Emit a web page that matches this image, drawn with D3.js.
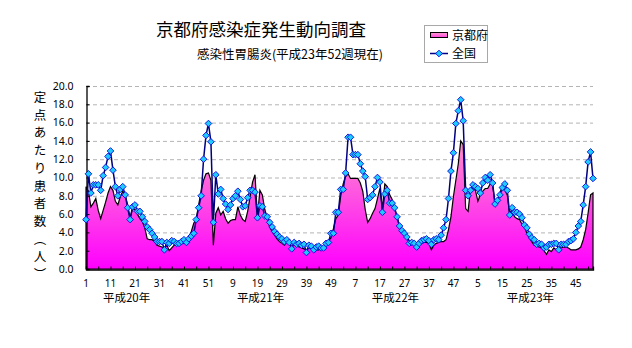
<!DOCTYPE html>
<html><head><meta charset="utf-8">
<script src="https://cdn.jsdelivr.net/npm/d3@7"></script>
<style>body{margin:0;background:#fff}svg{display:block}text{font-family:"Noto Sans CJK JP","Noto Sans",sans-serif;fill:#000}</style>
</head><body><svg id="c" width="632" height="348"></svg>
<script>
// 京都府 (area) – weekly values, 平成20年第1週 .. 平成23年第52週
const kyoto = [
9.0,8.5,6.8,7.2,7.7,6.4,5.5,6.4,7.3,8.3,9.0,8.6,7.4,7.0,7.9,8.5,8.1,7.0,5.6,6.6,
6.5,6.0,5.5,5.2,4.5,3.3,3.2,3.2,3.0,2.6,2.5,2.4,2.3,2.6,2.0,2.3,2.6,2.8,2.7,2.8,
2.8,2.8,3.5,4.1,5.0,5.5,7.0,8.5,9.7,10.4,10.5,9.7,
2.6,6.1,6.7,5.9,6.3,5.5,5.0,5.3,5.4,5.4,6.8,5.9,5.4,5.2,6.3,7.9,9.5,10.3,5.7,8.6,
8.1,6.5,5.6,4.6,4.1,3.7,3.3,3.0,2.8,2.6,3.0,2.8,2.8,2.8,2.6,2.4,2.3,2.2,2.1,2.3,
2.3,2.2,2.1,2.1,2.3,2.4,2.8,3.1,3.4,4.4,5.5,5.9,
8.0,9.3,10.1,10.4,9.9,9.9,9.9,9.9,9.4,8.5,6.5,5.1,5.5,6.1,6.6,7.7,8.8,6.6,9.3,9.0,
8.1,7.6,6.6,5.7,4.6,4.2,3.9,3.5,3.1,2.9,2.8,2.7,2.7,2.8,2.9,2.9,2.8,2.1,2.6,2.8,
2.9,3.0,3.0,3.2,4.3,5.7,7.9,9.7,11.5,14.0,13.6,6.6,
6.3,8.8,8.8,8.6,7.4,8.1,8.5,8.8,8.8,9.3,9.2,7.2,7.5,8.3,9.0,8.6,8.1,5.9,6.3,5.7,
5.5,5.4,4.9,4.6,3.9,3.4,3.0,2.6,2.5,2.4,2.3,2.0,1.6,2.1,1.9,2.3,2.1,2.4,2.3,2.4,
2.4,2.3,2.1,2.1,2.1,2.2,2.4,3.2,4.3,6.1,8.1,8.3
];
// 全国 (line with markers)
const zenkoku = [
5.4,10.4,8.3,9.2,9.2,9.2,8.6,10.2,11.1,12.3,12.9,10.8,9.0,8.0,8.7,9.0,8.1,6.7,5.4,6.8,
7.0,6.3,6.3,5.7,5.2,4.6,4.3,3.9,3.5,3.0,3.0,3.0,2.1,2.9,2.8,3.1,3.0,2.8,2.8,3.0,
3.2,2.9,3.3,3.6,3.9,5.4,6.7,8.0,12.0,14.6,15.9,13.9,
5.1,10.3,8.2,8.7,7.7,7.1,6.5,7.0,7.7,8.0,8.5,7.6,6.8,6.9,7.8,8.6,8.6,8.4,5.6,6.9,
6.8,5.8,5.7,5.1,4.6,4.1,3.8,3.5,3.3,3.0,3.2,2.9,2.2,2.9,2.7,2.8,2.6,2.7,1.8,2.6,
2.5,2.1,2.4,2.5,2.3,2.3,2.8,2.9,3.9,3.9,6.2,6.2,
8.7,8.7,10.5,14.4,14.4,12.5,12.5,12.5,11.5,10.7,10.1,7.6,7.8,8.1,9.0,10.0,9.5,6.2,8.2,8.6,
7.2,7.2,6.7,5.7,4.7,4.2,3.9,3.5,2.8,2.9,2.8,2.4,2.8,3.1,3.2,3.3,3.1,2.7,3.2,3.3,
3.2,3.7,4.5,5.4,7.7,10.7,12.7,15.9,17.3,18.5,16.2,8.6,
8.0,8.6,9.2,9.0,8.8,8.3,9.4,10.0,9.7,10.3,9.4,7.1,7.5,8.1,8.9,9.3,8.6,5.9,6.7,6.2,
6.2,6.0,5.6,4.8,4.5,3.8,3.4,3.2,2.7,2.8,2.7,2.3,2.4,2.7,2.7,2.8,2.8,2.1,2.7,2.7,
2.7,3.0,3.1,3.3,4.0,4.7,5.2,7.0,9.0,11.7,12.8,9.9
];
const xTickLabels = ["1","11","21","31","41","51","9","19","29","39","49","7","17","27","37","47","5","15","25","35","45"];
const xTickIndex = [0,10,20,30,40,50,60,70,80,90,100,110,120,130,140,150,160,170,180,190,200];
const yearLabels = ["平成20年","平成21年","平成22年","平成23年"];
const yearLabelIndex = [6.9,61.6,116.7,171.8];
const yTicks = [0,2,4,6,8,10,12,14,16,18,20];
const yTitleChars = ["定","点","あ","た","り","患","者","数","︵","人","︶"];
const title = "京都府感染症発生動向調査";
const subtitle = "感染性胃腸炎(平成23年52週現在)";
const seriesNames = ["京都府","全国"];

const svg = d3.select("#c");
const x = d3.scaleLinear().domain([0, kyoto.length - 1]).range([86, 593]);
const y = d3.scaleLinear().domain([0, 20]).range([269, 86]);

// gradient
const defs = svg.append("defs");
const grad = defs.append("linearGradient").attr("id","g").attr("gradientUnits","userSpaceOnUse")
  .attr("x1",0).attr("x2",0).attr("y1",y(14)).attr("y2",y(0));
grad.append("stop").attr("offset",0).attr("stop-color","#ff8fcc");
grad.append("stop").attr("offset",1).attr("stop-color","#ff00ff");
const lgrad = defs.append("linearGradient").attr("id","lg").attr("x1",0).attr("x2",0).attr("y1",0).attr("y2",1);
lgrad.append("stop").attr("offset",0).attr("stop-color","#ff9fd0");
lgrad.append("stop").attr("offset",1).attr("stop-color","#ff40e0");

// gridlines
svg.append("g").selectAll("line").data(yTicks.filter(d=>d>0)).join("line")
  .attr("x1",x(0)).attr("x2",x(kyoto.length-1)).attr("y1",d=>y(d)+0.5).attr("y2",d=>y(d)+0.5)
  .attr("stroke","#b4b4b4").attr("stroke-dasharray","4,3");

// area
const idx = d3.range(kyoto.length);
svg.append("path").datum(idx)
  .attr("d", d3.area().x(i=>x(i)).y0(y(0)).y1(i=>y(kyoto[i])))
  .attr("fill","url(#g)").attr("stroke","#000").attr("stroke-width",1.2).attr("stroke-linejoin","miter");

// axes
const yAxis = d3.axisLeft(y).tickValues(yTicks).tickSize(-3).tickPadding(13).tickFormat(d3.format(".1f"));
const gy = svg.append("g").attr("transform","translate(86.5,0)").call(yAxis);
gy.select(".domain").attr("stroke","#000").attr("stroke-width",1.3);
gy.selectAll("text").style("font-family","'Noto Sans','DejaVu Sans',sans-serif").style("font-size","10.5px");

const xAxis = d3.axisBottom(x).tickValues(d3.range(0, kyoto.length, 5)).tickSize(-3).tickFormat("");
const gx = svg.append("g").attr("transform","translate(0,269.5)").call(xAxis);
gx.select(".domain").attr("stroke","#000").attr("stroke-width",1.3);

svg.append("g").selectAll("text").data(xTickIndex).join("text")
  .attr("x",(d)=>x(d)).attr("y",287).attr("text-anchor","middle")
  .style("font-family","'Noto Sans','DejaVu Sans',sans-serif").style("font-size","10px")
  .text((d,k)=>xTickLabels[k]);
svg.append("g").selectAll("text").data(yearLabelIndex).join("text")
  .attr("x",d=>x(d)).attr("y",302).attr("text-anchor","start").style("font-size","11.5px")
  .text((d,k)=>yearLabels[k]);

// line
svg.append("path").datum(idx)
  .attr("d", d3.line().x(i=>x(i)).y(i=>y(zenkoku[i])))
  .attr("fill","none").attr("stroke","#000080").attr("stroke-width",1.5);
svg.append("g").selectAll("path").data(idx).join("path")
  .attr("d", d3.symbol().type(d3.symbolSquare).size(22))
  .attr("transform",i=>`translate(${x(i)},${y(zenkoku[i])}) rotate(45)`)
  .attr("fill","#1ecbff").attr("stroke","#1010e0").attr("stroke-width",0.9);

// titles
svg.append("text").attr("x",261).attr("y",36).attr("text-anchor","middle").style("font-size","17.5px").text(title);
svg.append("text").attr("x",290).attr("y",59).attr("text-anchor","middle").style("font-size","12.5px").text(subtitle);

// y title
svg.append("g").selectAll("text").data(yTitleChars).join("text")
  .attr("x",40).attr("y",(d,k)=>102 + k*17.7).attr("text-anchor","middle").style("font-size","12.5px")
  .text(d=>d);

// legend
const lg = svg.append("g");
lg.append("rect").attr("x",424.5).attr("y",25.5).attr("width",63).attr("height",37).attr("fill","#fff").attr("stroke","#a8a8a8");
lg.append("rect").attr("x",430.5).attr("y",32.5).attr("width",17).attr("height",5).attr("fill","url(#lg)").attr("stroke","#000");
lg.append("text").attr("x",452).attr("y",40).style("font-size","12px").text(seriesNames[0]);
lg.append("line").attr("x1",430).attr("x2",448).attr("y1",53.5).attr("y2",53.5).attr("stroke","#000080").attr("stroke-width",1.5);
lg.append("path").attr("d", d3.symbol().type(d3.symbolSquare).size(22))
  .attr("transform","translate(439,53.5) rotate(45)").attr("fill","#1ecbff").attr("stroke","#1010e0").attr("stroke-width",0.9);
lg.append("text").attr("x",452).attr("y",58).style("font-size","12px").text(seriesNames[1]);
</script></body></html>
